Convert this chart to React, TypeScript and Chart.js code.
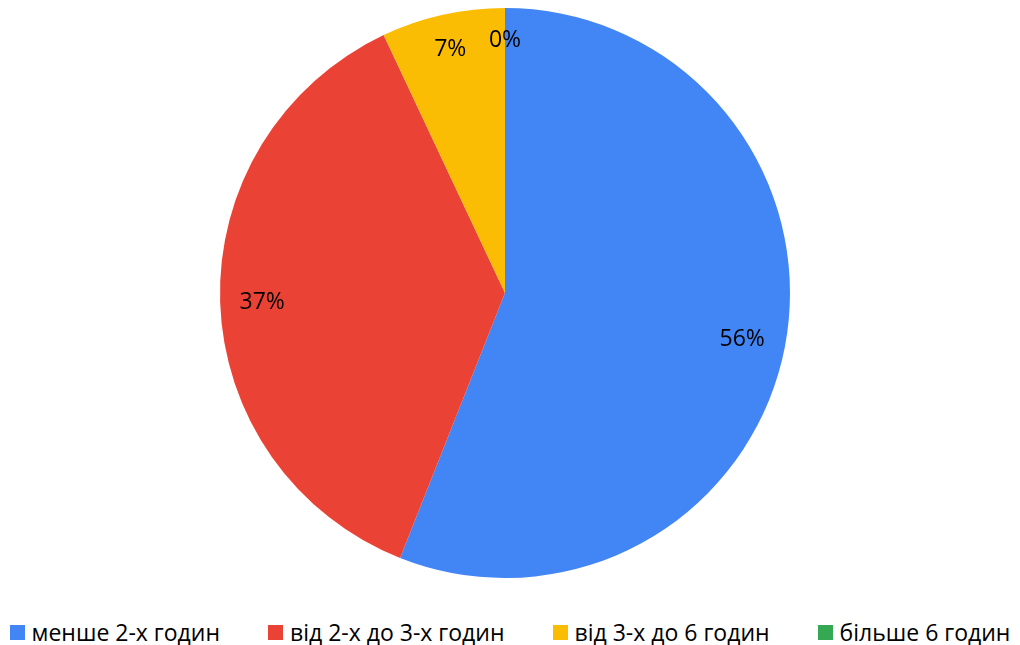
import React, { useEffect, useRef } from "react";
import { Chart, registerables } from "chart.js";

Chart.register(...registerables);

const categories = ["менше 2-х годин", "від 2-х до 3-х годин", "від 3-х до 6 годин", "більше 6 годин"];
const values = [56, 37, 7, 0];
const colors = ["#4285F4", "#EA4335", "#FBBC04", "#34A853"];

const FONT = "'Open Sans', 'Noto Sans', sans-serif";

const pctLabels = {
  id: "pctLabels",
  afterDatasetsDraw(chart: any) {
    const ctx = chart.ctx;
    const meta = chart.getDatasetMeta(0);
    const data = chart.data.datasets[0].data as number[];
    const total = data.reduce((a: number, b: number) => a + b, 0);
    ctx.save();
    ctx.font = `23px ${FONT}`;
    ctx.fillStyle = "#000000";
    ctx.textAlign = "center";
    ctx.textBaseline = "alphabetic";
    meta.data.forEach((arc: any, i: number) => {
      const p = arc.getProps(["x", "y", "startAngle", "endAngle", "outerRadius"], true);
      const mid = (p.startAngle + p.endAngle) / 2;
      const text = Math.round((data[i] / total) * 100) + "%";
      const tw = ctx.measureText(text).width;
      const c = Math.cos(mid);
      const s = Math.sin(mid);
      const d = p.outerRadius - 19 - (tw / 2 * Math.abs(c) + 12 * Math.abs(s));
      const cx = p.x + c * d;
      const cy = p.y + s * d;
      ctx.fillText(text, cx, cy + 8);
    });
    ctx.restore();
  },
};

export default function App() {
  const ref = useRef<HTMLCanvasElement | null>(null);
  useEffect(() => {
    if (!ref.current) return;
    const chart = new Chart(ref.current, {
      type: "pie",
      data: {
        labels: categories,
        datasets: [
          {
            data: values,
            backgroundColor: colors,
            borderWidth: 0,
          },
        ],
      },
      options: {
        animation: false,
        responsive: false,
        devicePixelRatio: 1,
        layout: { padding: { top: 8, bottom: 12, left: 0, right: 10 } },
        plugins: {
          legend: { display: false },
          tooltip: { enabled: false },
        },
      },
      plugins: [pctLabels],
    });
    return () => chart.destroy();
  }, []);

  return (
    <div style={{ position: "absolute", left: 0, top: 0, width: 1020, height: 645, background: "#fff", overflow: "hidden" }}>
      <canvas ref={ref} width={1020} height={590} style={{ position: "absolute", left: 0, top: 0 }} />
      <div
        style={{
          position: "absolute",
          left: 0,
          top: 616,
          width: 1020,
          height: 32,
          display: "flex",
          justifyContent: "center",
          alignItems: "center",
          gap: 48,
          fontFamily: FONT,
          fontSize: 23,
          lineHeight: "32px",
          color: "#000",
          whiteSpace: "nowrap",
        }}
      >
        {categories.map((c, i) => (
          <div key={c} style={{ display: "flex", alignItems: "center" }}>
            <span style={{ display: "inline-block", width: 15, height: 15, background: colors[i], marginRight: 7 }} />
            <span>{c}</span>
          </div>
        ))}
      </div>
    </div>
  );
}
